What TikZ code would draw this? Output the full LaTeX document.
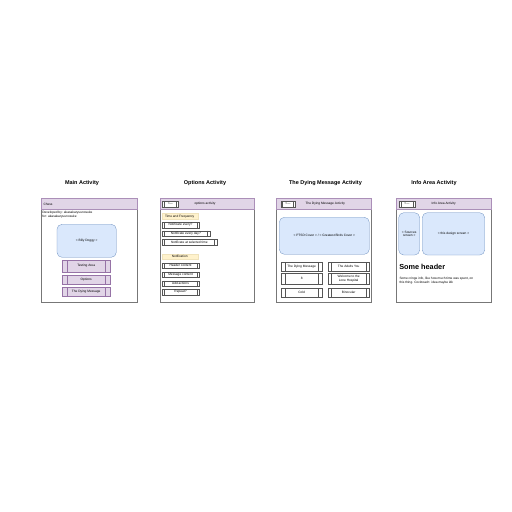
\documentclass[tikz,border=0pt]{standalone}
\usepackage{fontspec}
\setmainfont{Liberation Sans}
\definecolor{purf}{HTML}{E1D5E7}
\definecolor{purd}{HTML}{9673A6}
\definecolor{bluf}{HTML}{DAE8FC}
\definecolor{blud}{HTML}{6C8EBF}
\definecolor{yelf}{HTML}{FFF2CC}
\definecolor{yeld}{HTML}{D6B656}
\definecolor{frm}{HTML}{777777}
\definecolor{btnd}{HTML}{555555}
\newcommand{\bx}[7]{\node[#1, minimum width={(#5-#3)*1pt}, minimum height={(#6-#4)*1pt}] (#2) at ({(#3+#5)/2},{(#4+#6)/2}) {#7};}
\begin{document}
\begin{tikzpicture}[x=1pt,y=-1pt,
  every node/.style={inner sep=0pt, outer sep=0pt, font=\fontsize{3.2}{3.8}\selectfont},
  ttl/.style={font=\fontsize{5.5}{6.5}\selectfont\bfseries},
  frame/.style={draw=frm, fill=white, line width=0.3pt},
  hdr/.style={draw=purd!80, fill=purf, line width=0.25pt},
  blu/.style={draw=blud, fill=bluf, line width=0.3pt, rounded corners=5pt, align=center},
  yel/.style={draw=yeld!40, fill=yelf, line width=0.2pt},
  pprocline/.style={draw=purd, line width=0.25pt},
  bprocline/.style={draw=btnd, line width=0.22pt},
  pbtn/.style={draw=purd, fill=purf, line width=0.25pt, align=center, path picture={
     \draw[pprocline] ([xshift=#1]path picture bounding box.north west) -- ([xshift=#1]path picture bounding box.south west);
     \draw[pprocline] ([xshift=-#1]path picture bounding box.north east) -- ([xshift=-#1]path picture bounding box.south east);}},
  bbtn/.style={draw=btnd, fill=white, line width=0.22pt, align=center, path picture={
     \draw[bprocline] ([xshift=#1]path picture bounding box.north west) -- ([xshift=#1]path picture bounding box.south west);
     \draw[bprocline] ([xshift=-#1]path picture bounding box.north east) -- ([xshift=-#1]path picture bounding box.south east);}},
]
\useasboundingbox (0,0) rectangle (512,512);

% ---------- Panel 1: Main Activity ----------
\node[ttl] (t1) at (82,183) {Main Activity};
\bx{frame}{f1}{41.5}{198.3}{137}{301.7}{}
\bx{hdr}{h1}{41.5}{198.3}{137}{209.3}{}
\node[anchor=west] (c1) at (43.5,204) {Chess};
\node[anchor=west] (d1) at (42.3,212.5) {Developed by: akasakaryuunosuke};
\node[anchor=west] (d2) at (42.3,216.3) {for: akasakaryuunosuke};
\bx{blu}{bd}{57}{224.3}{116.3}{257.3}{< Billy Doggy >}
\bx{pbtn=5pt}{ta}{62}{260}{110.3}{272.3}{Testing Area}
\bx{pbtn=5pt}{op}{62}{274.7}{110.3}{284.3}{Options}
\bx{pbtn=5pt}{dm}{62}{287}{110.3}{296.3}{The Dying Message}

% ---------- Panel 2: Options Activity ----------
\node[ttl] (t2) at (205,183) {Options Activity};
\bx{frame}{f2}{159.7}{198.3}{254.3}{301.7}{}
\bx{hdr}{h2}{159.7}{198.3}{254.3}{209.3}{}
\bx{bbtn=1.8pt}{bk2}{162.3}{201.3}{178.3}{206.7}{<---}
\node (ht2) at (205,204) {options activity};
\bx{yel}{y1}{161.7}{213.3}{197.7}{219.3}{Time and Frequency}
\bx{bbtn=2.5pt}{n1}{161.7}{222.3}{199.3}{227.7}{Notificate every?}
\bx{bbtn=2.5pt}{n2}{161.7}{230.7}{210}{236.3}{Notificate every day?}
\bx{bbtn=2.5pt}{n3}{161.7}{239.3}{217}{245.3}{Notificate at selected time}
\bx{yel}{y2}{161.7}{254}{197.7}{259.3}{Notification}
\bx{bbtn=2.5pt}{m1}{161.7}{263}{199.3}{268.3}{Header content}
\bx{bbtn=2.5pt}{m2}{161.7}{272}{199.3}{277.3}{Message content}
\bx{bbtn=2.5pt}{m3}{161.7}{280.7}{199.3}{286}{Add actions}
\bx{bbtn=2.5pt}{m4}{161.7}{289.3}{199.3}{295}{Repeat?}

% ---------- Panel 3: The Dying Message Activity ----------
\node[ttl] (t3) at (325.5,183) {The Dying Message Activity};
\bx{frame}{f3}{276}{198.3}{371.3}{301.7}{}
\bx{hdr}{h3}{276}{198.3}{371.3}{209.3}{}
\bx{bbtn=1.8pt}{bk3}{280.7}{201.3}{295.3}{206.7}{<---}
\node (ht3) at (325.3,204) {The Dying Message Activity};
\bx{blu}{cv}{279.3}{217.3}{369.3}{254.3}{< PTSD Cover > / < Greatest Birds Cover >}
\bx{bbtn=3.5pt}{g1}{281.3}{262.3}{322}{270.7}{The Dying Message}
\bx{bbtn=3.5pt}{g2}{328}{262.3}{369.3}{270.7}{The Adults You}
\bx{bbtn=3.5pt}{g3}{281.3}{273.3}{322}{283.7}{8}
\bx{bbtn=3.5pt}{g4}{328}{273.3}{369.3}{283.7}{Welcome to the\\Lone Hospital}
\bx{bbtn=3.5pt}{g5}{281.3}{288.3}{322}{297}{Cold}
\bx{bbtn=3.5pt}{g6}{328}{288.3}{369.3}{297}{Binocular}

% ---------- Panel 4: Info Area Activity ----------
\node[ttl] (t4) at (434,183) {Info Area Activity};
\bx{frame}{f4}{396}{198.3}{491.3}{301.7}{}
\bx{hdr}{h4}{396}{198.3}{491.3}{209.3}{}
\bx{bbtn=1.8pt}{bk4}{399.3}{201.3}{414.7}{206.7}{<---}
\node (ht4) at (443.7,204) {Info Area Activity};
\bx{blu}{sc}{398.7}{212.7}{419.7}{255}{< Sources\\screen >}
\bx{blu}{ds}{422.3}{212.7}{484.7}{255}{< this design screen >}
\node[anchor=west, font=\fontsize{7.3}{8.5}\selectfont\bfseries] (sh) at (399.3,267) {Some header};
\node[anchor=north west, align=left] (it) at (399.5,277.3) {Some cringe info, like how much time was spent, on\\this thing. Cocktoach: idea maybe idk};
\end{tikzpicture}
\end{document}
